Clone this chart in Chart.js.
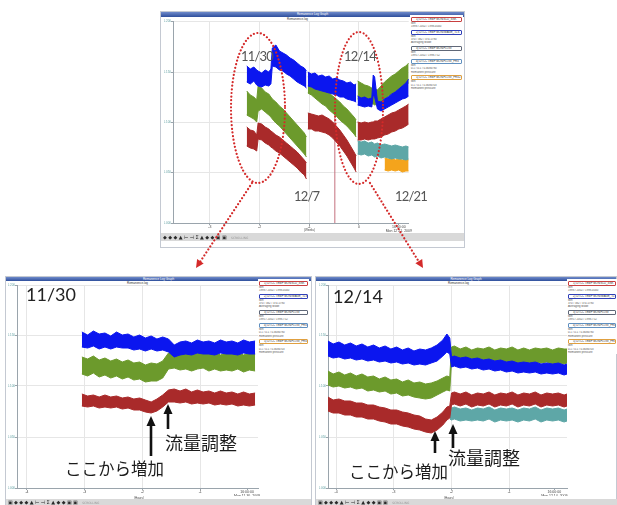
<!DOCTYPE html>
<html lang="ja">
<head>
<meta charset="utf-8">
<title>Remanence log</title>
<script src="https://cdn.jsdelivr.net/npm/chart.js@4.4.1/dist/chart.umd.min.js"></script>
<style>
  html, body { margin: 0; padding: 0; background: #fff; }
  body { position: relative; width: 617px; height: 505px; overflow: hidden; font-family: "Liberation Sans", Arial, sans-serif; }
  .win { position: absolute; background: #fff; border: 1px solid #c4c9d2; box-sizing: border-box; }
  .titlebar { position: absolute; background: linear-gradient(#6f8bcb, #2f4f9c); color: #fff; font-size: 3px; text-align: center; overflow: hidden; }
  .sub { position: absolute; font-size: 3px; color: #333; white-space: nowrap; }
  .legend { position: absolute; font-size: 2.8px; color: #555; background: #fff; }
  .legend .item { border: 1px solid; border-radius: 1px; height: 3px; line-height: 3px; padding-left: 4px; color: #333; white-space: nowrap; overflow: hidden; margin: 1.5px 1px 0 1px; }
  .legend .note { line-height: 3.3px; padding-left: 1px; white-space: nowrap; overflow: hidden; }
  .toolbar { position: absolute; background: #d9d9d9; color: #2a2a2a; font-size: 5px; letter-spacing: 1.4px; padding-left: 2px; white-space: nowrap; overflow: hidden; box-sizing: border-box; font-family: "DejaVu Sans", sans-serif; }
  .toolbar span { color: #999; font-size: 3px; letter-spacing: 0; }
  .axt { position: absolute; font-size: 3px; color: #444; }
  .date { position: absolute; font-family: Lato, "Open Sans", sans-serif; color: #555; line-height: 1; white-space: nowrap; z-index: 6; }
  .small { font-size: 13px; letter-spacing: -0.8px; }
  .jp { position: absolute; font-family: "Noto Sans CJK JP", sans-serif; color: #1c1c1c; line-height: 1; white-space: nowrap; z-index: 6; }
  canvas { position: absolute; }
  svg { position: absolute; left: 0; top: 0; z-index: 5; }
</style>
</head>
<body>

<!-- top window: four weeks -->
<div class="win" style="left:160px;top:11px;width:305px;height:237px"></div>
<div class="titlebar" style="left:161px;top:12px;width:303px;height:5px;line-height:5px">Remanence Log Graph</div>
<div class="sub" style="left:287px;top:17px">Remanence.log</div>
<canvas id="topChart" width="252" height="215" style="left:160px;top:17px"></canvas>
<div class="axt" style="left:304px;top:228px">(Weeks)</div>
<div class="legend" id="topLegend" style="left:410px;top:15px;width:53px"></div>
<div class="toolbar" style="left:161px;top:233px;width:303px;height:8px;line-height:8px">◆◆◆▲⊢⊣Σ▲◆◆▣▣ <span>SCROLLING</span></div>

<!-- bottom left window: 11/30 -->
<div class="win" style="left:5px;top:276px;width:307px;height:232px"></div>
<div class="titlebar" style="left:6px;top:277px;width:305px;height:4px;line-height:4px">Remanence Log Graph</div>
<div class="sub" style="left:127px;top:281px">Remanence.log</div>
<canvas id="leftChart" width="256" height="215" style="left:5px;top:281px"></canvas>
<div class="axt" style="left:134px;top:496px">(Hours)</div>
<div class="legend" id="leftLegend" style="left:258px;top:279px;width:51px"></div>
<div class="toolbar" style="left:6px;top:499px;width:305px;height:6px;line-height:6px">▣◆◆◆▲⊢⊣Σ▲◆◆▣▣ <span>SCROLLING</span></div>

<!-- bottom right window: 12/14 -->
<div class="win" style="left:315px;top:276px;width:302px;height:232px"></div>
<div class="titlebar" style="left:316px;top:277px;width:300px;height:4px;line-height:4px">Remanence Log Graph</div>
<div class="sub" style="left:448px;top:281px">Remanence.log</div>
<canvas id="rightChart" width="255" height="215" style="left:315px;top:281px"></canvas>
<div class="axt" style="left:444px;top:496px">(Hours)</div>
<div class="legend" id="rightLegend" style="left:567px;top:279px;width:50px"></div>
<div class="toolbar" style="left:316px;top:499px;width:301px;height:6px;line-height:6px">▣◆◆◆▲⊢⊣Σ▲◆◆▣▣ <span>SCROLLING</span></div>

<!-- callouts -->
<svg width="617" height="505">
  <g fill="none" stroke="#d42a2a" stroke-width="2.2" stroke-linecap="round" stroke-dasharray="0.01 3.6">
    <ellipse cx="258" cy="108" rx="27" ry="75"/>
    <ellipse cx="359" cy="108" rx="24" ry="76"/>
    <line x1="252" y1="183" x2="200" y2="262"/>
    <line x1="370" y1="183" x2="419" y2="262"/>
  </g>
  <g fill="#d42a2a">
    <polygon points="196,268 203.7,263.5 197.1,259.1"/>
    <polygon points="423,268 422.2,259.1 415.4,263.3"/>
  </g>
  <g stroke="#111" stroke-width="2.6">
    <line x1="151" y1="456" x2="151" y2="424"/>
    <line x1="168" y1="429" x2="168" y2="412"/>
    <line x1="435" y1="453" x2="435" y2="439"/>
    <line x1="453" y1="448" x2="453" y2="432"/>
  </g>
  <g fill="#111">
    <polygon points="151,416 146.5,426 155.5,426"/>
    <polygon points="168,404 163.5,414 172.5,414"/>
    <polygon points="435,431 430.5,441 439.5,441"/>
    <polygon points="453,424 448.5,434 457.5,434"/>
  </g>
</svg>

<div class="date small" style="left:241px;top:50px">11/30</div>
<div class="date small" style="left:344px;top:50px">12/14</div>
<div class="date small" style="left:294px;top:190px">12/7</div>
<div class="date small" style="left:395px;top:190px">12/21</div>
<div class="date" style="left:26px;top:285px;font-size:18px;color:#222">11/30</div>
<div class="date" style="left:333px;top:287px;font-size:18px;color:#222">12/14</div>
<div class="jp" style="left:165px;top:433px;font-size:18px">流量調整</div>
<div class="jp" style="left:65px;top:460px;font-size:16.5px">ここから増加</div>
<div class="jp" style="left:448px;top:448px;font-size:18px">流量調整</div>
<div class="jp" style="left:349px;top:463px;font-size:16.5px">ここから増加</div>

<script>
// ---- four-week overview (x: days from 11/23, y: raw level) ----
const topDays = [5.2, 5.7, 6.2, 6.6, 6.8, 7.3, 7.8, 8.3, 8.6, 8.8, 9.3, 9.8, 10.3, 10.8, 11.3, 11.8, 12.3, 12.8, 13.3, 13.6,
                 13.7,
                 13.8, 14.3, 14.8, 15.3, 15.8, 16.3, 16.8, 17.3, 17.8, 18.3, 18.8, 19.3, 19.8, 20.3, 20.6,
                 20.7,
                 20.8, 21.3, 21.8, 22.3, 22.8, 23.0, 23.2, 23.6, 24.1, 24.6, 25.1, 25.6, 26.1, 26.6, 27.1, 27.6, 28.0];
const topBlueHi = [157, 154, 156, 153, 152, 150, 153, 151, 154, 175, 178, 172, 170, 168, 165, 163, 160, 157, 155, 152,
                   null,
                   151, 149, 150, 147, 148, 146, 147, 144, 145, 143, 142, 140, 141, 138, 139,
                   null,
                   127, 125, 126, 124, 125, 148, 146, 122, 121, 124, 126, 129, 131, 134, 137, 140, 144];
const topBlueLo = [141, 139, 142, 138, 137, 136, 138, 137, 139, 157, 156, 153, 152, 149, 147, 144, 141, 139, 137, 135,
                   null,
                   137, 136, 134, 133, 132, 131, 130, 129, 128, 126, 126, 124, 123, 122, 121,
                   null,
                   118, 117, 116, 117, 116, 128, 126, 114, 112, 114, 116, 118, 120, 122, 124, 125, 127];
const topGreenHi = [132, 128, 126, 123, 137, 135, 131, 129, 126, 124, 121, 117, 114, 110, 106, 102, 98, 94, 90, 86,
                    null,
                    146, 143, 141, 138, 136, 133, 130, 127, 124, 121, 117, 114, 110, 106, 103,
                    null,
                    142, 140, 138, 137, 135, 134, 134, 133, 137, 141, 144, 147, 149, 152, 155, 157, 160];
const topGreenLo = [108, 106, 104, 101, 112, 114, 111, 108, 106, 104, 100, 97, 93, 89, 85, 81, 77, 73, 69, 66,
                    null,
                    130, 128, 125, 122, 119, 117, 113, 110, 107, 103, 100, 97, 93, 89, 86,
                    null,
                    124, 123, 121, 120, 119, 119, 118, 119, 121, 124, 127, 129, 131, 133, 135, 138, 140];
const topRedHi = [96, 93, 92, 88, 100, 99, 96, 94, 92, 91, 88, 86, 83, 80, 77, 74, 71, 67, 63, 60,
                  null,
                  110, 109, 108, 107, 108, 106, 104, 101, 97, 93, 88, 83, 77, 71, 67,
                  null,
                  101, 100, 101, 100, 101, 101, 102, 102, 104, 106, 108, 110, 111, 113, 115, 117, 119];
const topRedLo = [77, 75, 74, 72, 84, 83, 80, 78, 76, 75, 72, 70, 67, 64, 61, 58, 55, 51, 48, 44,
                  null,
                  94, 94, 92, 92, 91, 90, 88, 85, 81, 77, 72, 67, 61, 55, 51,
                  null,
                  83, 83, 84, 83, 84, 84, 84, 85, 86, 88, 89, 91, 92, 94, 95, 97, 99];
const topTealDays = [20.8, 21.3, 21.8, 22.3, 22.8, 23.0, 23.2, 23.6, 24.1, 24.6, 25.1, 25.6, 26.1, 26.6, 27.1, 27.6, 28.0];
const topTealHi = [82, 81, 82, 80, 81, 80, 79, 80, 78, 79, 78, 77, 78, 77, 76, 77, 76];
const topTealLo = [69, 68, 69, 67, 68, 67, 66, 67, 65, 66, 65, 64, 65, 64, 64, 63, 64];
const topOrangeDays = [24.6, 25.1, 25.6, 26.1, 26.6, 27.1, 27.6, 28.0];
const topOrangeHi = [65, 64, 65, 63, 64, 63, 64, 63];
const topOrangeLo = [53, 52, 53, 52, 53, 51, 52, 52];
const topMarkerDays = [17.6, 17.6];
const topMarkerLevel = [0, 113];
const topTickDays = [0, 7, 14, 21, 26.6];
const topTickLabels = ['-3', '-2', '-1', '0', ['16:00:00', 'Mon 12 21, 2009']];
const topLevelTicks = [0, 51, 101, 151, 202];
const topLevelLabels = ['0.000', '0.050', '0.100', '0.150', '0.200'];

// ---- 11/30 close-up (x: hours) ----
const leftHours = [0.95, 1.05, 1.15, 1.25, 1.35, 1.45, 1.55, 1.65, 1.75, 1.85, 1.95, 2.05, 2.15, 2.25, 2.35, 2.45,
                   2.55, 2.65, 2.75, 2.85, 2.95, 3.05, 3.15, 3.25, 3.35, 3.45, 3.55, 3.65, 3.75, 3.85, 3.95];
const leftBlueHi = [156, 153, 157, 154, 155, 152, 156, 153, 154, 151, 153, 150, 152, 149, 151, 149, 143, 146, 147, 145, 148, 146, 147, 145, 148, 146, 147, 145, 148, 146, 147];
const leftBlueLo = [141, 140, 142, 139, 141, 139, 141, 140, 140, 138, 139, 137, 139, 137, 138, 136, 131, 133, 134, 133, 135, 134, 134, 133, 135, 134, 134, 133, 135, 134, 134];
const leftGreenHi = [131, 129, 132, 128, 130, 127, 129, 126, 128, 125, 126, 123, 125, 124, 127, 135, 137, 134, 136, 133, 135, 137, 134, 136, 133, 135, 134, 136, 133, 135, 134];
const leftGreenLo = [114, 112, 115, 111, 113, 110, 112, 109, 111, 108, 109, 106, 107, 107, 110, 119, 120, 118, 119, 117, 119, 120, 117, 119, 117, 118, 117, 119, 116, 118, 117];
const leftRedHi = [94, 92, 93, 91, 93, 91, 92, 90, 91, 89, 90, 88, 86, 89, 93, 98, 99, 97, 99, 96, 98, 96, 97, 95, 97, 95, 96, 94, 96, 94, 95];
const leftRedLo = [82, 81, 82, 80, 81, 80, 81, 79, 80, 78, 78, 76, 75, 77, 81, 86, 86, 85, 86, 84, 85, 84, 85, 83, 84, 83, 84, 82, 83, 82, 83];
const leftTickHours = [0, 1, 2, 3, 3.81];
const leftTickLabels = ['-4', '-3', '-2', '-1', ['16:00:00', 'Mon 11 30, 2009']];

// ---- 12/14 close-up (x: hours) ----
const rightHours = [-0.14, -0.05, 0.05, 0.15, 0.25, 0.35, 0.45, 0.55, 0.65, 0.75, 0.85, 0.95, 1.05, 1.15, 1.25, 1.35, 1.45,
                    1.55, 1.65, 1.75, 1.85, 1.92, 1.97, 2.0, 2.05, 2.15, 2.25, 2.35, 2.45, 2.55, 2.65, 2.75, 2.85, 2.95,
                    3.05, 3.15, 3.25, 3.35, 3.45, 3.55, 3.65, 3.75, 3.85, 3.95, 4.0];
const rightBlueHi = [147, 144, 146, 143, 145, 142, 144, 141, 143, 140, 142, 139, 141, 138, 140, 137, 139, 138, 140, 143, 148, 154, 150, 131,
                     132, 130, 131, 129, 130, 128, 129, 127, 128, 126, 127, 125, 126, 125, 126, 124, 125, 124, 125, 123, 124];
const rightBlueLo = [132, 130, 131, 129, 130, 128, 129, 127, 128, 126, 127, 125, 126, 124, 125, 123, 124, 123, 125, 127, 132, 136, 134, 121,
                     122, 120, 121, 119, 120, 118, 119, 117, 118, 116, 117, 115, 116, 115, 116, 114, 115, 114, 115, 113, 114];
const rightGreenHi = [117, 114, 116, 113, 115, 112, 114, 111, 112, 109, 111, 108, 109, 106, 108, 105, 106, 104, 105, 107, 110, 112, 111, 141,
                      142, 139, 141, 138, 140, 139, 141, 138, 140, 139, 141, 138, 140, 138, 140, 139, 140, 138, 140, 139, 139];
const rightGreenLo = [103, 101, 102, 100, 101, 99, 100, 97, 98, 96, 97, 94, 95, 92, 93, 91, 90, 89, 90, 93, 96, 98, 97, 126,
                      127, 125, 126, 124, 126, 125, 126, 124, 126, 125, 126, 124, 125, 124, 126, 125, 126, 124, 125, 124, 125];
const rightRedHi = [91, 88, 89, 87, 87, 85, 85, 83, 83, 81, 80, 78, 78, 76, 75, 73, 72, 69, 68, 71, 76, 81, 82, 95,
                    96, 94, 96, 93, 95, 94, 96, 93, 95, 94, 96, 93, 95, 94, 96, 93, 95, 94, 95, 93, 94];
const rightRedLo = [77, 75, 75, 73, 73, 71, 71, 69, 69, 67, 66, 64, 64, 62, 61, 59, 58, 56, 55, 58, 63, 68, 70, 83,
                    84, 82, 84, 81, 83, 82, 84, 81, 83, 82, 84, 81, 83, 82, 84, 81, 83, 82, 83, 81, 82];
const rightTealHours = [1.97, 2.0, 2.05, 2.15, 2.25, 2.35, 2.45, 2.55, 2.65, 2.75, 2.85, 2.95, 3.05, 3.15, 3.25, 3.35, 3.45, 3.55, 3.65, 3.75, 3.85, 3.95, 4.0];
const rightTealHi = [79, 80, 81, 79, 80, 78, 80, 79, 81, 78, 80, 79, 80, 78, 80, 79, 81, 78, 80, 79, 80, 78, 79];
const rightTealLo = [69, 68, 69, 67, 68, 67, 68, 67, 69, 66, 68, 67, 68, 66, 68, 67, 69, 66, 68, 67, 68, 66, 67];
const rightTickHours = [0, 1, 2, 3, 3.78];
const rightTickLabels = ['-4', '-3', '-2', '-1', ['16:00:00', 'Mon 12 14, 2009']];

const zoomLevelTicks = [0, 51, 102, 153, 203];
const zoomLevelLabels = ['0.000', '0.050', '0.100', '0.150', '0.200'];

// legend panel text
const legendNames = ['1) DTCC TEMP MON/SLD_SNK', '2) DTCC TEMP MON/IMAGE_TLS', '3) DTCC TEMP MON/FLOW', '4) DTCC TEMP MON/FLOW_PRS', '5) DTCC TEMP MON/FLOW_PRS2'];
const legendNotes = [
    ['Min', '1998 / 2002 / 1998.4000'],
    ['Min', '370 / 382 / 374.5790', 'Averaging Mode'],
    ['Min', '1995 / 2002 / 1998.752'],
    ['Min', '0.1 / 0.1 / 0.3686790', 'Remanent pressure'],
    ['Min', '0.1 / 0.1 / 0.3686703', 'Remanent pressure']
];

const BLUE = '#0b16ef';
const GREEN = '#6c9a2c';
const RED = '#a92a2a';
const TEAL = '#5ea7a7';
const ORANGE = '#f4a41c';
const legendBorders = ['#c84040', '#3040b8', '#606878', '#6090c0', '#e0a040'];

Chart.defaults.font.family = '"Liberation Sans", Arial, sans-serif';

function buildLegend(id) {
    const el = document.getElementById(id);
    legendNames.forEach(function(name, i) {
        const item = document.createElement('div');
        item.className = 'item';
        item.style.borderColor = legendBorders[i];
        item.textContent = name;
        el.appendChild(item);
        legendNotes[i].forEach(function(t) {
            const d = document.createElement('div');
            d.className = 'note';
            d.textContent = t;
            el.appendChild(d);
        });
    });
}

function band(xs, hi, lo, color) {
    return [
        { data: xs.map((x, i) => ({ x: x, y: hi[i] })), borderColor: color, backgroundColor: color, fill: false },
        { data: xs.map((x, i) => ({ x: x, y: lo[i] })), borderColor: color, backgroundColor: color, fill: '-1' }
    ];
}

function drawChart(id, datasets, ax) {
    const endTick = ax.xTicks[ax.xTicks.length - 1];
    return new Chart(document.getElementById(id), {
        type: 'line',
        data: { datasets: datasets },
        options: {
            animation: false,
            responsive: false,
            devicePixelRatio: 1,
            layout: { padding: ax.pad },
            elements: { point: { radius: 0 }, line: { tension: 0, borderWidth: 1 } },
            plugins: { legend: { display: false }, tooltip: { enabled: false } },
            scales: {
                x: {
                    type: 'linear',
                    min: ax.xMin,
                    max: ax.xMax,
                    afterBuildTicks: s => { s.ticks = ax.xTicks.map(v => ({ value: v })); },
                    afterFit: s => { s.height = ax.xH; },
                    ticks: {
                        autoSkip: false, maxRotation: 0, padding: 0, color: '#444',
                        font: { size: 3.5, lineHeight: 1.1 },
                        callback: (v, i) => ax.xLabels[i]
                    },
                    grid: {
                        color: c => (c.tick && c.tick.value === endTick) ? 'rgba(0,0,0,0)' : '#e6e6e6',
                        tickLength: 2, tickColor: '#9aa4ac'
                    },
                    border: { color: '#9aa4ac' }
                },
                y: {
                    min: 0,
                    max: ax.yMax,
                    afterBuildTicks: s => { s.ticks = ax.yTicks.map(v => ({ value: v })); },
                    afterFit: s => { s.width = ax.yW; },
                    ticks: { padding: 0, color: '#5f9ea0', font: { size: 3 }, callback: (v, i) => ax.yLabels[i] },
                    grid: { color: '#e6e6e6', tickLength: 2, tickColor: '#9aa4ac' },
                    border: { color: '#9aa4ac' }
                }
            }
        }
    });
}

buildLegend('topLegend');
buildLegend('leftLegend');
buildLegend('rightLegend');

drawChart('topChart', [].concat(
    band(topDays, topBlueHi, topBlueLo, BLUE),
    band(topDays, topGreenHi, topGreenLo, GREEN),
    band(topDays, topRedHi, topRedLo, RED),
    band(topTealDays, topTealHi, topTealLo, TEAL),
    band(topOrangeDays, topOrangeHi, topOrangeLo, ORANGE),
    [{ data: topMarkerDays.map((x, i) => ({ x: x, y: topMarkerLevel[i] })), borderColor: '#c4707e', fill: false }]
), {
    xMin: -5.18, xMax: 28.0, xTicks: topTickDays, xLabels: topTickLabels,
    yMax: 202, yTicks: topLevelTicks, yLabels: topLevelLabels,
    xH: 9, yW: 9, pad: { left: 4, top: 4, right: 2, bottom: 0 }
});

drawChart('leftChart', [].concat(
    band(leftHours, leftBlueHi, leftBlueLo, BLUE),
    band(leftHours, leftGreenHi, leftGreenLo, GREEN),
    band(leftHours, leftRedHi, leftRedLo, RED)
), {
    xMin: -0.173, xMax: 4.0, xTicks: leftTickHours, xLabels: leftTickLabels,
    yMax: 203, yTicks: zoomLevelTicks, yLabels: zoomLevelLabels,
    xH: 8, yW: 9, pad: { left: 3, top: 4, right: 3, bottom: 0 }
});

drawChart('rightChart', [].concat(
    band(rightHours, rightBlueHi, rightBlueLo, BLUE),
    band(rightHours, rightGreenHi, rightGreenLo, GREEN),
    band(rightHours, rightRedHi, rightRedLo, RED),
    band(rightTealHours, rightTealHi, rightTealLo, TEAL)
), {
    xMin: -0.139, xMax: 4.0, xTicks: rightTickHours, xLabels: rightTickLabels,
    yMax: 203, yTicks: zoomLevelTicks, yLabels: zoomLevelLabels,
    xH: 8, yW: 9, pad: { left: 4, top: 4, right: 3, bottom: 0 }
});
</script>
</body>
</html>
